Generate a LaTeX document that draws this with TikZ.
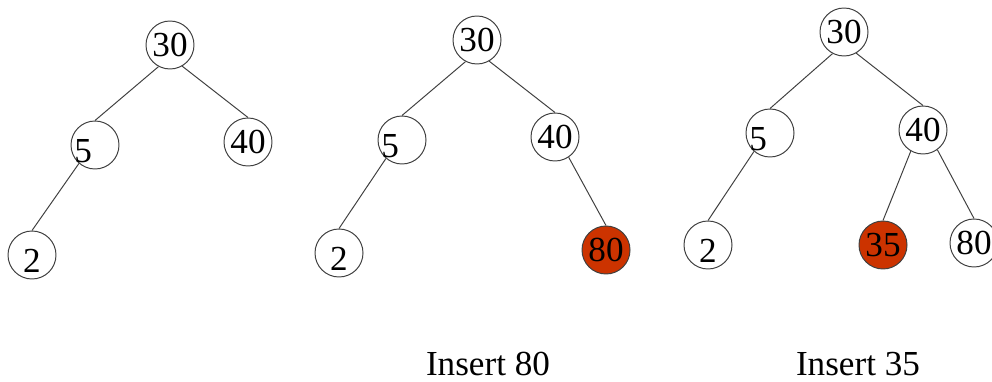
\documentclass[tikz,border=0pt]{standalone}
\usepackage{fontspec}
\setmainfont{Liberation Serif}
\definecolor{newkey}{RGB}{204,51,0}
\definecolor{edgegray}{RGB}{64,64,64}
\tikzset{
  key/.style={circle,draw=edgegray,line width=0.7pt,fill=white,
    minimum size=1.2cm,inner sep=0pt,font=\fontsize{25}{30}\selectfont},
  low/.style={text height=25.5pt,text depth=0pt},
  inserted/.style={key,fill=newkey},
  branch/.style={draw=edgegray,line width=0.7pt},
  caption/.style={anchor=base,font=\fontsize{25}{30}\selectfont}
}
\begin{document}
\begin{tikzpicture}
  \useasboundingbox (0,0) rectangle (24.8,9.525);
  % first tree
  \node [key] (a30) at (4.25,8.4) {30};
  \node [key,low] (a5) at (2.375,5.9) {\makebox[0pt]{5\hspace{17pt}}};
  \node [key] (a40) at (6.2,5.975) {40};
  \node [key,low] (a2) at (0.8,3.15) {2};
  \draw [branch] (a30.242) -- (a5.north);
  \draw [branch] (a30.300) -- (a40.north);
  \draw [branch] (a5.229) -- (a2.north);
  % after inserting 80
  \node [key] (b30) at (11.925,8.525) {30};
  \node [key,low] (b5) at (10.05,6.025) {\makebox[0pt]{5\hspace{17pt}}};
  \node [key] (b40) at (13.875,6.1) {40};
  \node [key,low] (b2) at (8.475,3.2) {2};
  \node [inserted] (b80) at (15.15,3.275) {80};
  \draw [branch] (b30.242) -- (b5.north);
  \draw [branch] (b30.300) -- (b40.north);
  \draw [branch] (b5.229) -- (b2.north);
  \draw [branch] (b40.304) -- (b80.north);
  % after inserting 35
  \node [key] (c30) at (21.1,8.725) {30};
  \node [key,low] (c5) at (19.25,6.2) {\makebox[0pt]{5\hspace{17pt}}};
  \node [key] (c40) at (23.075,6.275) {40};
  \node [key,low] (c2) at (17.7,3.4) {2};
  \node [inserted] (c35) at (22.075,3.4) {35};
  \node [key] (c80) at (24.35,3.45) {80};
  \draw [branch] (c30.242) -- (c5.north);
  \draw [branch] (c30.300) -- (c40.north);
  \draw [branch] (c5.229) -- (c2.north);
  \draw [branch] (c40.240) -- (c35.north);
  \draw [branch] (c40.306) -- (c80.north);
  % captions
  \node [caption] (ins80) at (12.2,0.15) {Insert 80};
  \node [caption] (ins35) at (21.45,0.15) {Insert 35};
\end{tikzpicture}
\end{document}
